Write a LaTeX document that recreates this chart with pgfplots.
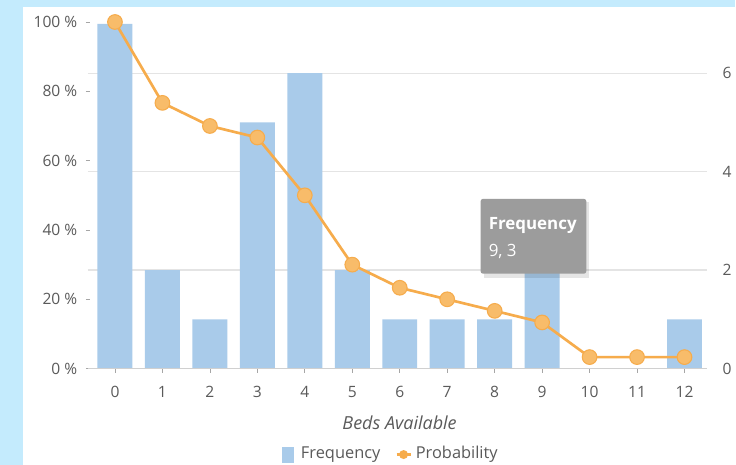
\documentclass[border=0pt]{standalone}
\usepackage{pgfplots}
\pgfplotsset{compat=1.18}
\usepackage{fontspec}
\setmainfont{Open Sans}
\definecolor{bgblue}{HTML}{C4EBFD}
\definecolor{barblue}{HTML}{A9CBEA}
\definecolor{lineorange}{HTML}{F6AC4C}
\definecolor{markfill}{HTML}{F8BC6A}
\definecolor{txtgray}{HTML}{5A5A5A}
\definecolor{gridgray}{HTML}{E4E4E4}
\definecolor{axgray}{HTML}{D0D0D0}
\definecolor{tipgray}{HTML}{9C9C9C}
\begin{document}
\begin{tikzpicture}
\begin{scope}[x=0.75pt,y=-0.75pt]
\fill[bgblue] (0,0) rectangle (736,465);
\fill[white] (23,7) rectangle (736,465);
\end{scope}
% frequency (right axis)
\begin{axis}[
  scale only axis, width=465pt, height=260.25pt,
  at={(66pt,-276.75pt)}, anchor=south west,
  xmin=-0.57, xmax=12.48, ymin=0, ymax=7.04,
  axis x line=none, axis y line*=right,
  y axis line style={draw=none},
  ytick={0,2,4,6}, ytick style={draw=none},
  ymajorgrids, grid style={gridgray, line width=1pt},
  yticklabel style={font=\fontsize{11.7}{13}\selectfont, text=txtgray, xshift=8pt},
  /pgf/number format/assume math mode=true,
  clip=false,
]
\addplot[ybar, bar width=26.25pt, bar shift=0pt, fill=barblue, draw=none]
  coordinates {(0,7)(1,2)(2,1)(3,5)(4,6)(5,2)(6,1)(7,1)(8,1)(9,3)(10,0)(11,0)(12,1)};
\end{axis}
% probability (left axis)
\begin{axis}[
  scale only axis, width=465pt, height=260.25pt,
  at={(66pt,-276.75pt)}, anchor=south west,
  xmin=-0.57, xmax=12.48, ymin=0, ymax=100,
  axis x line*=bottom, axis y line*=left,
  x axis line style={draw=axgray, line width=1.2pt, -},
  y axis line style={draw=none},
  xtick={0,...,12}, ytick={0,20,...,100},
  tick style={draw=gray!70, line width=0.5pt},
  xtick align=outside, major tick length=3pt,
  ytick align=center,
  yticklabel={\pgfmathprintnumber{\tick}\ \%},
  ticklabel style={font=\fontsize{11.7}{13}\selectfont, text=txtgray},
  yticklabel style={xshift=-3pt},
  xticklabel style={yshift=-7pt},
  /pgf/number format/assume math mode=true,
  clip=false,
]
\addplot[lineorange, line width=2pt, mark=*, mark size=5.5pt,
  mark options={fill=markfill, draw=lineorange, line width=0.8pt}]
  coordinates {(0,100)(1,76.67)(2,70)(3,66.67)(4,50)(5,30)(6,23.33)(7,20)(8,16.67)(9,13.33)(10,3.33)(11,3.33)(12,3.33)};
\end{axis}
\begin{scope}[x=0.75pt,y=-0.75pt]
% axis title
\node[font=\fontsize{13.5}{15}\selectfont\itshape, text=txtgray] at (400,423) {Beds Available};
% legend
\fill[barblue] (282,447) rectangle (294,463);
\node[anchor=west, font=\fontsize{12.3}{14}\selectfont, text=txtgray, inner sep=0pt] at (301,455) {Frequency};
\draw[lineorange, line width=1.6pt] (397,455) -- (411,455);
\fill[lineorange] (404,455) circle (4.5);
\node[anchor=west, font=\fontsize{12.3}{14}\selectfont, text=txtgray, inner sep=0pt] at (416,455) {Probability};
% tooltip
\fill[black, opacity=0.10] (484,202) rectangle (590,278);
\fill[tipgray, rounded corners=2pt] (481,199) rectangle (587,274);
\node[anchor=west, font=\fontsize{12.7}{14}\selectfont\bfseries, text=white, inner sep=0pt] at (489,226) {Frequency};
\node[anchor=west, font=\fontsize{12.7}{14}\selectfont, text=white, inner sep=0pt] at (489,252) {9, 3};
\end{scope}
\end{tikzpicture}
\end{document}
